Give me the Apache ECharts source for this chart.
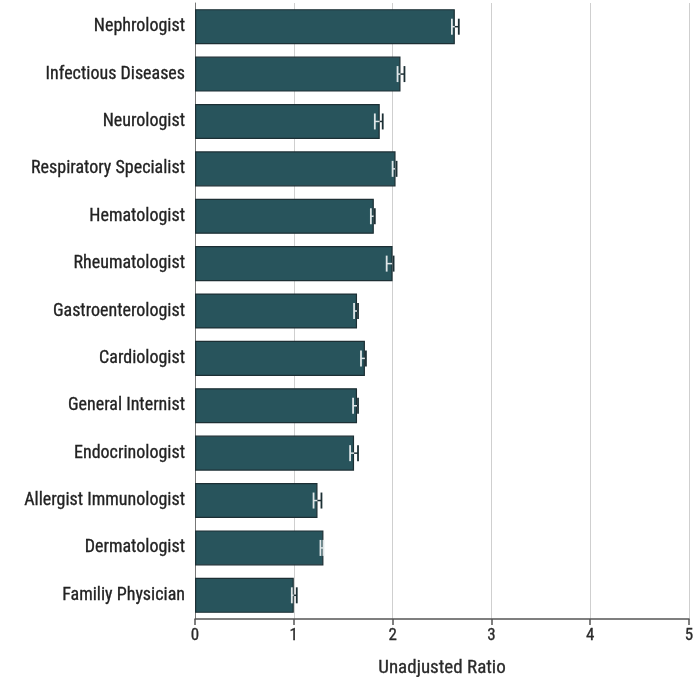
<!DOCTYPE html>
<html><head><meta charset="utf-8">
<script src="https://cdn.jsdelivr.net/npm/echarts@6/dist/echarts.min.js"></script>
<style>html,body{margin:0;padding:0;background:#fff}#c{width:693px;height:677px}</style>
</head><body><div id="c"></div>
<script>
const categories = ["Nephrologist","Infectious Diseases","Neurologist","Respiratory Specialist","Hematologist","Rheumatologist","Gastroenterologist","Cardiologist","General Internist","Endocrinologist","Allergist Immunologist","Dermatologist","Familiy Physician"];
const values = [2.63,2.08,1.87,2.03,1.81,2.0,1.64,1.72,1.64,1.61,1.24,1.30,1.0];
const lower  = [2.60,2.05,1.82,2.00,1.78,1.94,1.61,1.68,1.60,1.57,1.20,1.27,0.98];
const upper  = [2.67,2.12,1.90,2.04,1.82,2.01,1.65,1.73,1.65,1.65,1.28,1.30,1.03];
const xTicks = [0,1,2,3,4,5];
const FONT = '"Liberation Sans Narrow", "Roboto Condensed", "Liberation Sans", sans-serif';

const chart = echarts.init(document.getElementById('c'));
chart.setOption({
  animation:false,
  grid:{left:195,right:4,top:3,bottom:58,containLabel:false,outerBoundsMode:'none'},
  xAxis:{type:'value',min:xTicks[0],max:xTicks[xTicks.length-1],interval:1,
    name:'Unadjusted Ratio',nameLocation:'middle',nameGap:40,
    nameTextStyle:{fontFamily:FONT,fontSize:19,color:'#2a2a2a',textBorderColor:'#2a2a2a',textBorderWidth:0.3},
    axisLine:{show:true,lineStyle:{color:'#555',width:1.5}},
    axisTick:{show:true,length:6,lineStyle:{color:'#555',width:1.5}},
    axisLabel:{fontFamily:FONT,fontSize:17,color:'#2a2a2a',margin:8,textBorderColor:'#2a2a2a',textBorderWidth:0.3},
    splitLine:{show:true,lineStyle:{color:'#cfcfcf',width:1}}},
  yAxis:{type:'category',data:categories,inverse:true,
    axisLine:{show:true,lineStyle:{color:'#777',width:1}},
    axisTick:{show:false},
    axisLabel:{fontFamily:FONT,fontSize:18,color:'#222',margin:10,textBorderColor:'#222',textBorderWidth:0.3},
    splitLine:{show:false}},
  series:[
    {type:'bar',data:values,barCategoryGap:'26%',
      itemStyle:{color:'#28545c',borderColor:'#1c2f34',borderWidth:1.2},z:2},
    {type:'custom',z:5,
      data:categories.map((c,i)=>[i,lower[i],upper[i],values[i]]),
      renderItem:function(params,api){
        const i=api.value(0);
        const lo=api.coord([api.value(1),i]);
        const hi=api.coord([api.value(2),i]);
        const bv=api.coord([api.value(3),i]);
        const y=lo[1], h=8;
        const light='#dfe6e8', dark='#1c2f34';
        const children=[];
        const seg=(x1,x2,col)=>children.push({type:'line',shape:{x1:x1,y1:y,x2:x2,y2:y},style:{stroke:col,lineWidth:1.5}});
        const cap=(x,col)=>children.push({type:'line',shape:{x1:x,y1:y-h,x2:x,y2:y+h},style:{stroke:col,lineWidth:1.8}});
        const mid=Math.min(Math.max(bv[0],lo[0]),hi[0]);
        if(mid>lo[0]) seg(lo[0],mid,light);
        if(hi[0]>mid) seg(mid,hi[0],dark);
        cap(lo[0], lo[0]<=bv[0]?light:dark);
        cap(hi[0], hi[0]<=bv[0]?light:dark);
        return {type:'group',children:children};
      }}
  ]
});
</script></body></html>
